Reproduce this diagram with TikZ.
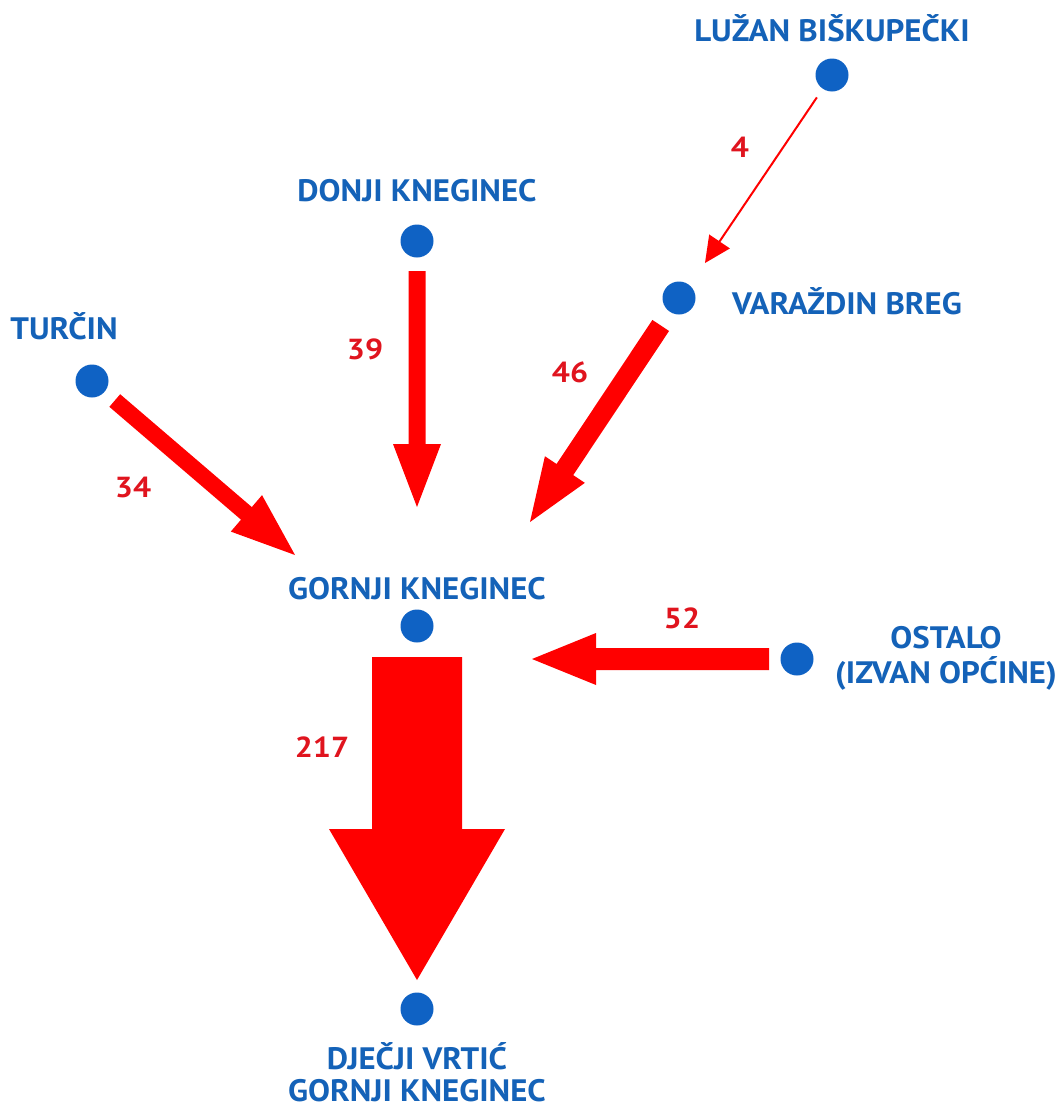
\documentclass[tikz,border=0pt]{standalone}
\usepackage{fontspec}
\setmainfont[FakeStretch=1.06]{PT Sans}
\newfontfamily\numfont[FakeStretch=1.1]{PT Sans}
\usetikzlibrary{calc}
\definecolor{arrowred}{HTML}{FF0000}
\definecolor{numred}{HTML}{E0141E}
\definecolor{dotblue}{HTML}{0F62C4}
\definecolor{txtblue}{HTML}{1462B8}
\tikzset{
  place/.style={circle,fill=dotblue,inner sep=0pt,minimum size=33pt},
  placelabel/.style={text=txtblue,font=\bfseries\fontsize{31}{34}\selectfont,anchor=base,inner sep=0pt,align=center},
  flowlabel/.style={text=numred,font=\numfont\bfseries\fontsize{29}{32}\selectfont,anchor=base,inner sep=0pt},
}
% #1 source node, #2 tip coordinate, #3 start gap, #4 half shaft, #5 half head, #6 head length
\newcommand\fatarrow[6]{%
  \coordinate (S) at ($(#1.center)!#3!(#2)$);
  \coordinate (T) at (#2);
  \coordinate (H) at ($(T)!#6!(S)$);
  \fill[arrowred] ($(S)!#4!90:(T)$) -- ($(H)!#4!-90:(S)$) -- ($(H)!#5!-90:(S)$) -- (T)
     -- ($(H)!#5!90:(S)$) -- ($(H)!#4!90:(S)$) -- ($(S)!#4!-90:(T)$) -- cycle;
}
\begin{document}
\begin{tikzpicture}[x=1pt,y=-1pt]
\useasboundingbox (0,0) rectangle (1061,1111);
\fill[white] (0,0) rectangle (1061,1111);
% places
\node[place] (luzan) at (832,75) {};
\node[place] (donji) at (417,241) {};
\node[place] (turcin) at (92,381) {};
\node[place] (varazdin) at (679,298) {};
\node[place] (gornji) at (417,626) {};
\node[place] (ostalo) at (797,659) {};
\node[place] (vrtic) at (417,1009) {};
% labels
\node[placelabel] (lluzan) at (832,41) {LUŽAN BIŠKUPEČKI};
\node[placelabel] (ldonji) at (417,201) {DONJI KNEGINEC};
\node[placelabel] (lturcin) at (64,339) {TURČIN};
\node[placelabel] (lvarazdin) at (847,314) {VARAŽDIN BREG};
\node[placelabel] (lgornji) at (417,599) {GORNJI KNEGINEC};
\node[placelabel] (lostalo1) at (946,648) {OSTALO};
\node[placelabel] (lostalo2) at (946,683) {(IZVAN OPĆINE)};
\node[placelabel] (lvrtic1) at (417,1069) {DJEČJI VRTIĆ};
\node[placelabel] (lvrtic2) at (417,1101) {GORNJI KNEGINEC};
% arrow tips
\coordinate (t4) at (705,263);
\coordinate (t39) at (417,507);
\coordinate (t34) at (295,555);
\coordinate (t46) at (530,522);
\coordinate (t52) at (532,659);
\coordinate (t217) at (417,980);
% arrows
\fatarrow{luzan}{t4}{27pt}{1pt}{12.5pt}{26pt}
\fatarrow{donji}{t39}{30pt}{8.5pt}{24pt}{63pt}
\fatarrow{turcin}{t34}{30pt}{8.3pt}{24pt}{64pt}
\fatarrow{varazdin}{t46}{33pt}{10pt}{24pt}{63pt}
\fatarrow{ostalo}{t52}{28pt}{11pt}{26pt}{64pt}
\fatarrow{gornji}{t217}{31pt}{45pt}{88pt}{151pt}
% flow values
\node[flowlabel] (n4) at (740,157) {4};
\node[flowlabel] (n39) at (365,359) {39};
\node[flowlabel] (n46) at (570,382) {46};
\node[flowlabel] (n34) at (133,497) {34};
\node[flowlabel] (n52) at (682,628) {52};
\node[flowlabel] (n217) at (322,757) {217};
\end{tikzpicture}
\end{document}
